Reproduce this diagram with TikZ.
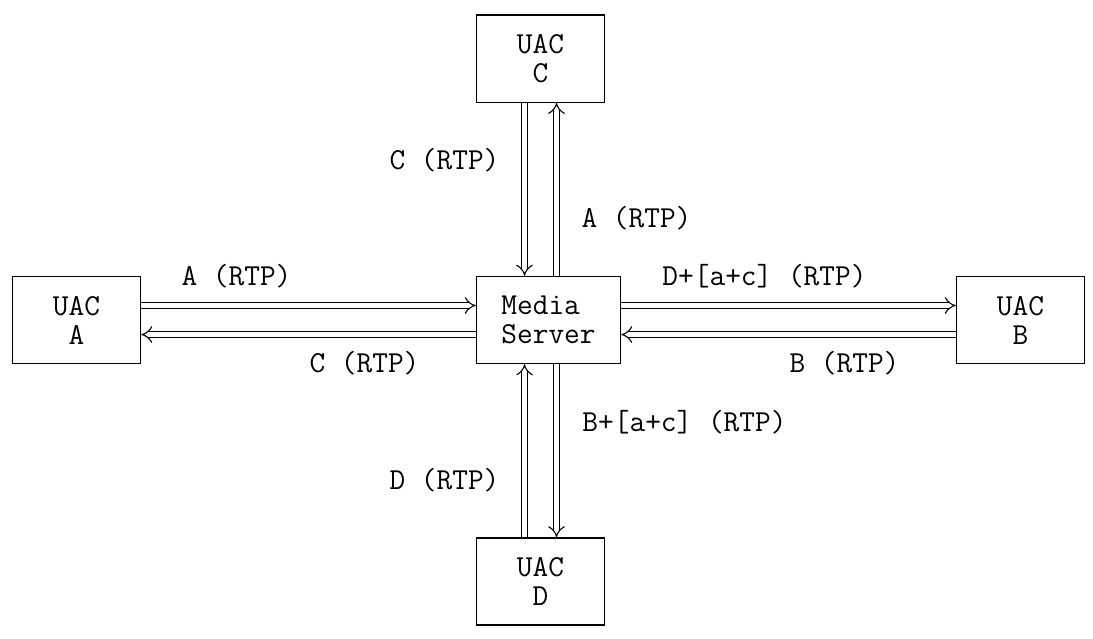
\documentclass[tikz,border=0pt]{standalone}
\usetikzlibrary{arrows.meta,calc}
\newcommand{\rtpfont}{\ttfamily\fontsize{15.24pt}{14.525pt}\selectfont}
\tikzset{
    uac/.style={rectangle,draw=black,line width=0.6pt,minimum width=64pt,minimum height=43.575pt,inner sep=0,align=center,font=\rtpfont},
    server/.style={uac,minimum width=72pt,align=left},
    rtp/.style={draw=black,double,double distance=2.4pt,line width=0.55pt,-{Implies}},
    lbl/.style={inner sep=0,font=\rtpfont}
}
\begin{document}
\begin{tikzpicture}[x=8pt,y={(0,-14.525pt)}]
    \useasboundingbox (-0.78125,-0.5164) rectangle (67.53,21.48);
    % boxes
    \node[server] (media) at (33.5,10.5) {Media\\Server};
    \node[uac] (uacA) at (4,10.5) {UAC\\A};
    \node[uac] (uacB) at (63,10.5) {UAC\\B};
    \node[uac] (uacC) at (33,1.5) {UAC\\C};
    \node[uac] (uacD) at (33,19.5) {UAC\\D};
    % end points of the vertical streams
    \coordinate (cL) at ($(uacC.south)+(-1,0)$);
    \coordinate (cR) at ($(uacC.south)+(1,0)$);
    \coordinate (dL) at ($(uacD.north)+(-1,0)$);
    \coordinate (dR) at ($(uacD.north)+(1,0)$);
    % A <-> server
    \draw[rtp] ($(uacA.east)+(0,-0.5)$) -- ($(media.west)+(0,-0.5)$);
    \draw[rtp] ($(media.west)+(0,0.5)$) -- ($(uacA.east)+(0,0.5)$);
    % server <-> B
    \draw[rtp] ($(media.east)+(0,-0.5)$) -- ($(uacB.west)+(0,-0.5)$);
    \draw[rtp] ($(uacB.west)+(0,0.5)$) -- ($(media.east)+(0,0.5)$);
    % C <-> server
    \draw[rtp] (cL) -- (cL |- media.north);
    \draw[rtp] (cR |- media.north) -- (cR);
    % server <-> D
    \draw[rtp] (dL) -- (dL |- media.south);
    \draw[rtp] (dR |- media.south) -- (dR);
    % stream labels
    \node[lbl] (lAin) at (14,9) {A (RTP)};
    \node[lbl] (lAout) at (22,12) {C (RTP)};
    \node[lbl] (lBout) at (47,9) {D+[a+c] (RTP)};
    \node[lbl] (lBin) at (52,12) {B (RTP)};
    \node[lbl] (lCin) at (27,5) {C (RTP)};
    \node[lbl] (lCout) at (39,7) {A (RTP)};
    \node[lbl] (lDout) at (42,14) {B+[a+c] (RTP)};
    \node[lbl] (lDin) at (27,16) {D (RTP)};
\end{tikzpicture}
\end{document}
